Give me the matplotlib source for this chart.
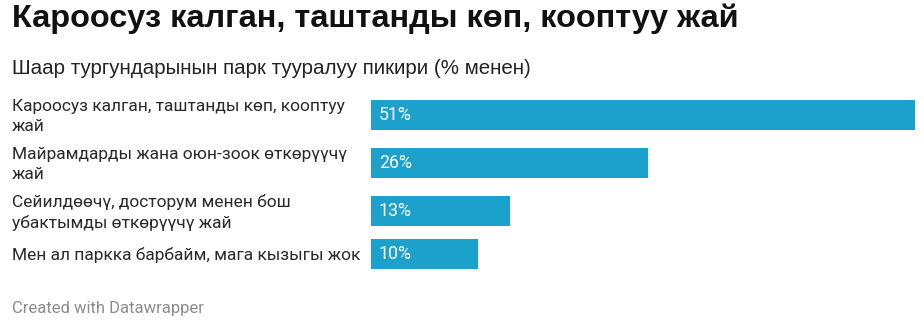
import numpy as np
import matplotlib.pyplot as plt
from matplotlib.transforms import blended_transform_factory

title = "Кароосуз калган, таштанды көп, кооптуу жай"
subtitle = "Шаар тургундарынын парк тууралуу пикири (% менен)"
labels = [
    "Кароосуз калган, таштанды көп, кооптуу\nжай",
    "Майрамдарды жана оюн-зоок өткөрүүчү\nжай",
    "Сейилдөөчү, досторум менен бош\nубактымды өткөрүүчү жай",
    "Мен ал паркка барбайм, мага кызыгы жок",
]
values = [51, 26, 13, 10]
footer = "Created with Datawrapper"

bar_color = "#1ba1cc"
W, H = 924, 326

fig = plt.figure(figsize=(W / 100, H / 100), dpi=100)
fig.patch.set_facecolor("white")

# row height depends on how many lines the label has
row_h = np.array([1.0 if "\n" in l else 0.77 for l in labels])
centers = np.cumsum(row_h) - row_h / 2
bar_h = 0.63

# axes spans from top of first bar to bottom of last bar (pixels)
top_px, bot_px = 100, 269
left_px, right_px = 371, 915
ax = fig.add_axes([left_px / W, 1 - bot_px / H, (right_px - left_px) / W, (bot_px - top_px) / H])
ax.barh(centers, values, height=bar_h, color=bar_color)
ax.set_xlim(0, max(values))
ax.set_ylim(centers[-1] + bar_h / 2, centers[0] - bar_h / 2)
ax.axis("off")

for y, v in zip(centers, values):
    ax.text(0.72, y, f"{v}%", color="white", fontsize=12.8, family="Roboto",
            va="center", ha="left")

tr = blended_transform_factory(fig.transFigure, ax.transData)
for y, lab in zip(centers, labels):
    ax.text(12 / W, y + 0.03, lab, transform=tr, fontsize=12.5, family="Roboto",
            color="#2a2a2a", va="center", ha="left", linespacing=1.4)

fig.text(12 / W, 1 - 19 / H, title, fontsize=23.4, fontweight="bold",
         family="Liberation Sans", color="#111111", va="center", ha="left")
fig.text(12 / W, 1 - 68 / H, subtitle, fontsize=14.75, family="Liberation Sans",
         color="#222222", va="center", ha="left")
fig.text(12 / W, 1 - 309 / H, footer, fontsize=12, family="Roboto",
         color="#8c8c8c", va="center", ha="left")

fig.savefig("out.png", dpi=100, facecolor="white")
